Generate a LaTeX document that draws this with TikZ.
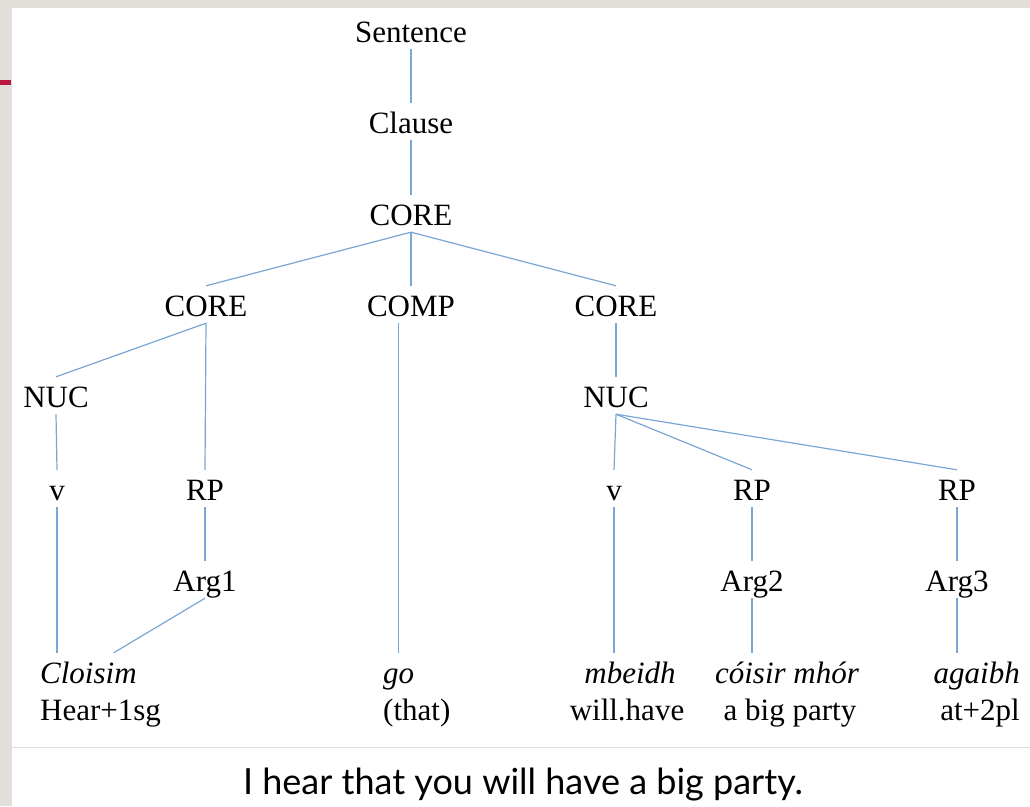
\documentclass[tikz,border=0pt]{standalone}
\usepackage{fontspec}
\setmainfont{Liberation Serif}
\newfontfamily\capfont{Lato}
\usepackage{xcolor}
\usetikzlibrary{calc}

\definecolor{twigblue}{RGB}{122,166,214}
\definecolor{slidegray}{RGB}{226,223,219}
\definecolor{slidered}{RGB}{184,24,62}

\begin{document}
\begin{tikzpicture}[x=1pt, y=-1pt,
    cat/.style={font=\fontsize{31}{37}\selectfont, anchor=base, inner sep=2pt,
                text height=28pt, text depth=5pt},
    word/.style={cat, font=\fontsize{31}{37}\selectfont\itshape},
    twig/.style={twigblue, line width=1.2pt}]
    % 0. Slide frame: grey margin, white page, red tick, caption rule
    \useasboundingbox (0,0) rectangle (1030,806);
    \fill[slidegray] (0,0) rectangle (1030,806);
    \fill[white] (12,8) rectangle (1030,806);
    \draw[black!12, line width=1pt] (12,747) -- (1030,747);
    \fill[slidered] (0,80) rectangle (11,85);

    % 1. Sentence -> Clause -> CORE
    \node[cat] (sent) at (411,42) {Sentence};
    \node[cat] (clause) at (411,133) {Clause};
    \node[cat] (core) at (411,225) {CORE};

    % 2. Juncture: two cores and the complementizer
    \node[cat] (coreL) at (206,316) {CORE};
    \node[cat] (comp) at (411,316) {COMP};
    \node[cat] (coreR) at (616,316) {CORE};

    % 3. Nuclei
    \node[cat] (nucL) at (56,407) {NUC};
    \node[cat] (nucR) at (616,407) {NUC};

    % 4. Predicates and reference phrases
    \node[cat] (vL) at (57,500) {v};
    \node[cat] (rpL) at (205,500) {RP};
    \node[cat] (vR) at (614,500) {v};
    \node[cat] (rpM) at (752,500) {RP};
    \node[cat] (rpR) at (957,500) {RP};

    % 5. Arguments
    \node[cat] (argA) at (205,591) {Arg1};
    \node[cat] (argB) at (752,591) {Arg2};
    \node[cat] (argC) at (957,591) {Arg3};

    % 6. Irish words with their glosses
    \node[word, anchor=base west] (cloisim) at (38,683) {Cloisim};
    \node[cat, anchor=base west] (hear) at (38,720) {Hear+1sg};
    \node[word, anchor=base west] (go) at (381,683) {go};
    \node[cat, anchor=base west] (that) at (381,720) {(that)};
    \node[word] (mbeidh) at (630,683) {mbeidh};
    \node[cat] (willhave) at (627,720) {will.have};
    \node[word] (coisir) at (787,683) {cóisir mhór};
    \node[cat] (party) at (790,720) {a big party};
    \node[word, anchor=base east] (agaibh) at (1022,683) {agaibh};
    \node[cat, anchor=base east] (attwo) at (1022,720) {at+2pl};

    % 7. Branches of the tree
    \foreach \a/\b in {sent/clause, clause/core, core/coreL, core/comp, core/coreR,
                       coreL/nucL, coreL/rpL, coreR/nucR, nucL/vL, rpL/argA,
                       nucR/vR, nucR/rpM, nucR/rpR, rpM/argB, rpR/argC}
        \draw[twig] (\a.south) -- (\b.north);

    % branches down to the words
    \draw[twig] (vL.south) -- (vL.south |- cloisim.north);
    \draw[twig] (argA.south) -- ($(cloisim.north)!0.5!(cloisim.north east)$);
    \draw[twig] (go.north |- comp.south) -- (go.north);
    \draw[twig] (vR.south) -- (vR.south |- mbeidh.north);
    \draw[twig] (argB.south) -- (argB.south |- coisir.north);
    \draw[twig] (argC.south) -- (argC.south |- agaibh.north);

    % 8. Free translation
    \node[font=\capfont\fontsize{36}{42}\selectfont, anchor=base, inner sep=0pt]
        (transl) at (523,794) {I hear that you will have a big party.};
\end{tikzpicture}
\end{document}
